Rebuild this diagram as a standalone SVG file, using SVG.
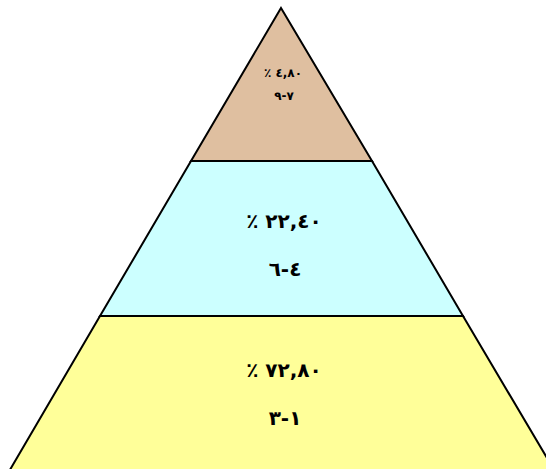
<svg xmlns="http://www.w3.org/2000/svg" width="546" height="469" viewBox="0 0 546 469">
<style>
.tier{stroke:#000;stroke-width:2;stroke-linejoin:miter}
.t{font-family:"DejaVu Sans",sans-serif;font-weight:bold;text-anchor:middle;fill:#000;unicode-bidi:bidi-override;direction:ltr}
.big{font-size:20px}
.small{font-size:12px}
</style>
<rect width="546" height="469" fill="#fff"/>
<g id="tier-top">
<polygon class="tier" points="281,8 372,161 191,161" fill="#DFBFA0"/>
<text class="t small" x="283" y="77">٪ ٤,٨٠</text>
<text class="t small" x="284" y="100">٩-٧</text>
</g>
<g id="tier-middle">
<polygon class="tier" points="191,161 372,161 463,316 100,316" fill="#CCFFFF"/>
<text class="t big" x="284" y="228">٪  ٢٢,٤٠</text>
<text class="t big" x="285" y="276">٦-٤</text>
</g>
<g id="tier-bottom">
<polygon class="tier" points="100,316 463,316 560,480 4,480" fill="#FFFF99"/>
<text class="t big" x="284" y="377">٪  ٧٢,٨٠</text>
<text class="t big" x="285" y="425">٣-١</text>
</g>
<g id="connectors"/>
</svg>
